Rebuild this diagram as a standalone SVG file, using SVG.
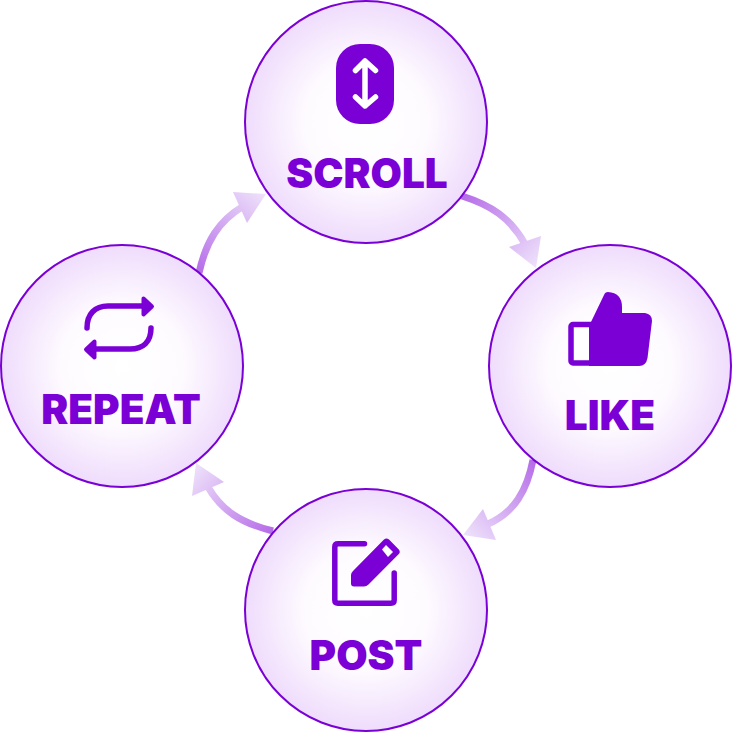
<svg xmlns="http://www.w3.org/2000/svg" width="732" height="732" viewBox="0 0 732 732">
<style>
.disc{fill:url(#disc);stroke:#7a00d6;stroke-width:2}
.label{font-family:Inter,"Liberation Sans",sans-serif;font-weight:900;font-size:40.500px;fill:#7a00d6;text-anchor:middle}
.ink{fill:#7a00d6}
.line{fill:none;stroke:#7a00d6;stroke-linecap:round;stroke-linejoin:round}
.shaft{fill:none;stroke-width:7}
</style>
<defs>
<radialGradient id="disc" cx="50%" cy="50%" r="50%">
<stop offset="0" stop-color="#fff"/><stop offset=".5" stop-color="#fefbff"/><stop offset="1" stop-color="#efdcfc"/>
</radialGradient>
<linearGradient id="a1" gradientUnits="userSpaceOnUse" x1="462" y1="196" x2="536" y2="268"><stop offset="0" stop-color="#b56ce8"/><stop offset="1" stop-color="#efe3fb"/></linearGradient>
<linearGradient id="a2" gradientUnits="userSpaceOnUse" x1="533" y1="460" x2="463" y2="535"><stop offset="0" stop-color="#b56ce8"/><stop offset="1" stop-color="#efe3fb"/></linearGradient>
<linearGradient id="a3" gradientUnits="userSpaceOnUse" x1="273" y1="531" x2="196" y2="463"><stop offset="0" stop-color="#b56ce8"/><stop offset="1" stop-color="#efe3fb"/></linearGradient>
<linearGradient id="a4" gradientUnits="userSpaceOnUse" x1="198" y1="273" x2="266" y2="194"><stop offset="0" stop-color="#b56ce8"/><stop offset="1" stop-color="#efe3fb"/></linearGradient>
</defs>
<g id="connectors">
<path class="shaft" stroke="url(#a1)" d="M462 196C490 205 510 217 525 244"/>
<polygon fill="url(#a1)" points="541,236 509,247 536,268"/>
<path class="shaft" stroke="url(#a2)" d="M533 460C527 490 515 512 488 524"/>
<polygon fill="url(#a2)" points="483,509 496,540 463,535"/>
<path class="shaft" stroke="url(#a3)" d="M273 531C241 523 222 511 208 487"/>
<polygon fill="url(#a3)" points="196,463 224,482 192,496"/>
<path class="shaft" stroke="url(#a4)" d="M199 273C206 241 219 221 242 207"/>
<polygon fill="url(#a4)" points="233,192 266,194 247,223"/>
</g>
<g id="scroll">
<circle class="disc" cx="366" cy="122" r="121"/>
<rect class="ink" x="336" y="44" width="58" height="80" rx="24"/>
<path d="M365 61V106M355.500 70.500L365 61L375.500 70.500M355.500 97L365 106L375.500 97" fill="none" stroke="#fff" stroke-width="5.500" stroke-linecap="round" stroke-linejoin="round"/>
<text class="label" x="367" y="187.500">SCROLL</text>
</g>
<g id="like">
<circle class="disc" cx="610" cy="366" r="121"/>
<rect x="571" y="324.500" width="30" height="38.500" rx="2" fill="#fff" stroke="#7a00d6" stroke-width="5.500"/>
<path class="ink" d="M589 366V327L591 322L604 295Q605 292 608 292Q622 293 622 307V313H645Q652 314 652 321L647.500 358Q646 366 639 366Z"/>
<text class="label" x="610" y="430">LIKE</text>
</g>
<g id="post">
<circle class="disc" cx="366" cy="610" r="121"/>
<path class="line" stroke-width="5.500" d="M364.500 543.800H338Q334.800 543.800 334.800 547V600Q334.800 603.200 338 603.200H391Q394.200 603.200 394.200 600V573"/>
<path class="ink" d="M351 575Q351 573 353 571L384 539.500Q386.500 537.500 389 539.500L398.800 549.500Q400.800 552 398.800 554L368.500 584.500Q366.500 586.500 364 586.500H354Q351 586.500 351 583.500Z"/>
<polygon fill="#fff" points="386,545 393,552 388,557 382,549.500"/>
<text class="label" x="366" y="670">POST</text>
</g>
<g id="repeat">
<circle class="disc" cx="122" cy="366" r="121"/>
<path class="line" stroke-width="5.500" d="M87 328C87 314 95 306 108 306H147M151 328C151 342 143 349 130 349H91"/>
<path class="ink" stroke="#7a00d6" stroke-width="4" stroke-linejoin="round" d="M143.500 298.500L152 306.500L143.500 314.500ZM94.500 341.500L86 349.500L94.500 357.500Z"/>
<text class="label" x="121" y="424">REPEAT</text>
</g>
</svg>
